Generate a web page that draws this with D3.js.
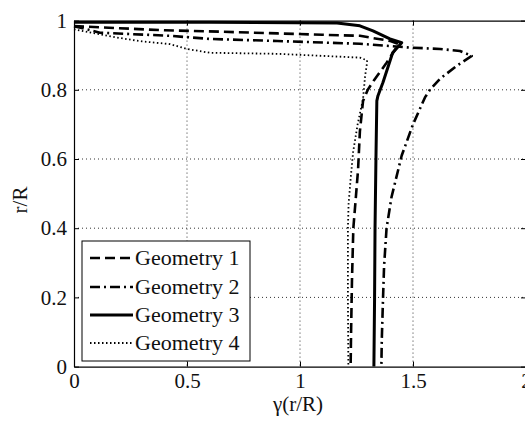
<!DOCTYPE html>
<html>
<head>
<meta charset="utf-8">
<script src="https://cdn.jsdelivr.net/npm/d3@7"></script>
<style>
  html, body { margin: 0; padding: 0; background: #fff; }
  svg { display: block; }
  svg text { font-family: 'Liberation Serif', 'Times New Roman', Times, serif !important; fill: #111; }
</style>
</head>
<body>
<svg id="chart" width="525" height="421"></svg>
<script>
// ---- data (gamma vs r/R) ----
const seriesNames = ["Geometry 1", "Geometry 2", "Geometry 3", "Geometry 4"];

const geom1X = [0, 0.2, 0.4, 0.646, 0.9, 1.1, 1.265, 1.40, 1.434, 1.42, 1.38, 1.33, 1.30, 1.279, 1.265, 1.257, 1.246, 1.236, 1.23, 1.226, 1.224];
const geom1Y = [0.984, 0.978, 0.972, 0.968, 0.963, 0.959, 0.956, 0.941, 0.933, 0.915, 0.875, 0.83, 0.80, 0.768, 0.68, 0.57, 0.48, 0.40, 0.25, 0.10, 0];

const geom2X = [0, 0.115, 0.425, 0.60, 0.9, 1.265, 1.487, 1.62, 1.708, 1.76, 1.693, 1.62, 1.575, 1.553, 1.50, 1.45, 1.405, 1.383, 1.372, 1.367, 1.362, 1.36];
const geom2Y = [0.984, 0.965, 0.956, 0.947, 0.941, 0.933, 0.922, 0.918, 0.912, 0.898, 0.869, 0.832, 0.80, 0.778, 0.70, 0.61, 0.49, 0.40, 0.29, 0.19, 0.08, 0];

const geom3X = [0, 0.6, 1.164, 1.265, 1.323, 1.398, 1.45, 1.41, 1.367, 1.345, 1.34, 1.336, 1.332, 1.33, 1.327];
const geom3Y = [0.995, 0.995, 0.993, 0.985, 0.970, 0.947, 0.936, 0.907, 0.821, 0.783, 0.768, 0.60, 0.40, 0.20, 0];

const geom4X = [0, 0.1, 0.2, 0.3, 0.425, 0.5, 0.6, 0.9, 1.1, 1.265, 1.297, 1.295, 1.288, 1.279, 1.255, 1.235, 1.225, 1.215, 1.212, 1.212, 1.214];
const geom4Y = [0.975, 0.962, 0.95, 0.94, 0.932, 0.918, 0.907, 0.904, 0.898, 0.893, 0.885, 0.87, 0.84, 0.774, 0.70, 0.62, 0.55, 0.47, 0.40, 0.20, 0];

const xTicks = [0, 0.5, 1, 1.5, 2];
const xTickLabels = ["0", "0.5", "1", "1.5", "2"];
const yTicks = [0, 0.2, 0.4, 0.6, 0.8, 1];
const yTickLabels = ["0", "0.2", "0.4", "0.6", "0.8", "1"];

// ---- layout ----
const FONT = "'Liberation Serif', 'Times New Roman', Times, serif";
const svg = d3.select("#chart");
const pLeft = 74, pTop = 20.6, pRight = 526, pBottom = 366.6;
const x = d3.scaleLinear().domain([0, 2]).range([pLeft, pRight]);
const y = d3.scaleLinear().domain([0, 1]).range([pBottom, pTop]);

// grid
const grid = svg.append("g");
grid.selectAll("line.gx").data(xTicks.slice(1, -1)).enter().append("line")
  .attr("x1", d => x(d)).attr("x2", d => x(d)).attr("y1", pTop).attr("y2", pBottom)
  .attr("stroke", "#333").attr("stroke-width", 1).attr("stroke-dasharray", "1,3");
grid.selectAll("line.gy").data(yTicks.slice(1, -1)).enter().append("line")
  .attr("x1", pLeft).attr("x2", pRight).attr("y1", d => y(d)).attr("y2", d => y(d))
  .attr("stroke", "#333").attr("stroke-width", 1).attr("stroke-dasharray", "1,3");

// axes (MATLAB style, inward ticks, box)
const tickLen = 5;
const axB = d3.axisBottom(x).tickValues(xTicks).tickFormat((d, i) => xTickLabels[i]).tickSizeInner(-tickLen).tickSizeOuter(0).tickPadding(6);
const axL = d3.axisLeft(y).tickValues(yTicks).tickFormat((d, i) => yTickLabels[i]).tickSizeInner(-tickLen).tickSizeOuter(0).tickPadding(7);
const axT = d3.axisTop(x).tickValues(xTicks).tickFormat("").tickSizeInner(-tickLen).tickSizeOuter(0);
const axR = d3.axisRight(y).tickValues(yTicks).tickFormat("").tickSizeInner(-tickLen).tickSizeOuter(0);

function styleAxis(g) {
  g.attr("font-family", FONT);
  g.selectAll("path.domain").attr("stroke", "#000").attr("stroke-width", 1.2);
  g.selectAll(".tick line").attr("stroke", "#000");
  g.selectAll(".tick text").style("font-family", FONT).attr("font-size", 21).attr("fill", "#111");
}
svg.append("g").attr("transform", `translate(0,${pBottom})`).call(axB).call(styleAxis);
svg.append("g").attr("transform", `translate(${pLeft},0)`).call(axL).call(styleAxis);
svg.append("g").attr("transform", `translate(0,${pTop})`).call(axT).call(styleAxis);
svg.append("g").attr("transform", `translate(${pRight},0)`).call(axR).call(styleAxis);

// series
const series = [
  { name: seriesNames[0], xs: geom1X, ys: geom1Y, dash: "10,5", w: 2.6 },
  { name: seriesNames[1], xs: geom2X, ys: geom2Y, dash: "10,4,2,4", w: 2.6 },
  { name: seriesNames[2], xs: geom3X, ys: geom3Y, dash: null, w: 3 },
  { name: seriesNames[3], xs: geom4X, ys: geom4Y, dash: "1.5,2.5", w: 1.8 }
];
const line = d3.line().x(d => x(d[0])).y(d => y(d[1]));
const plot = svg.append("g");
series.forEach(s => {
  const pts = s.xs.map((v, i) => [v, s.ys[i]]);
  plot.append("path").datum(pts).attr("d", line)
    .attr("fill", "none").attr("stroke", "#000").attr("stroke-width", s.w)
    .attr("stroke-linejoin", "round")
    .attr("stroke-dasharray", s.dash);
});

// axis labels
svg.append("text").attr("x", 298).attr("y", 411).attr("text-anchor", "middle")
  .style("font-family", FONT).attr("font-size", 21).text("γ(r/R)");
svg.append("text").attr("transform", "translate(27,200) rotate(-90)").attr("text-anchor", "middle")
  .style("font-family", FONT).attr("font-size", 21).text("r/R");

// legend
const lg = svg.append("g");
lg.append("rect").attr("x", 82).attr("y", 241).attr("width", 168).attr("height", 120)
  .attr("fill", "#fff").attr("stroke", "#000").attr("stroke-width", 1);
const rowY = [258, 287, 315, 343];
series.forEach((s, i) => {
  lg.append("line").attr("x1", 90).attr("x2", 133).attr("y1", rowY[i]).attr("y2", rowY[i])
    .attr("stroke", "#000").attr("stroke-width", s.w).attr("stroke-dasharray", s.dash);
  lg.append("text").attr("x", 135).attr("y", rowY[i] + 7).style("font-family", FONT)
    .attr("font-size", 22).text(s.name);
});
</script>
</body>
</html>
